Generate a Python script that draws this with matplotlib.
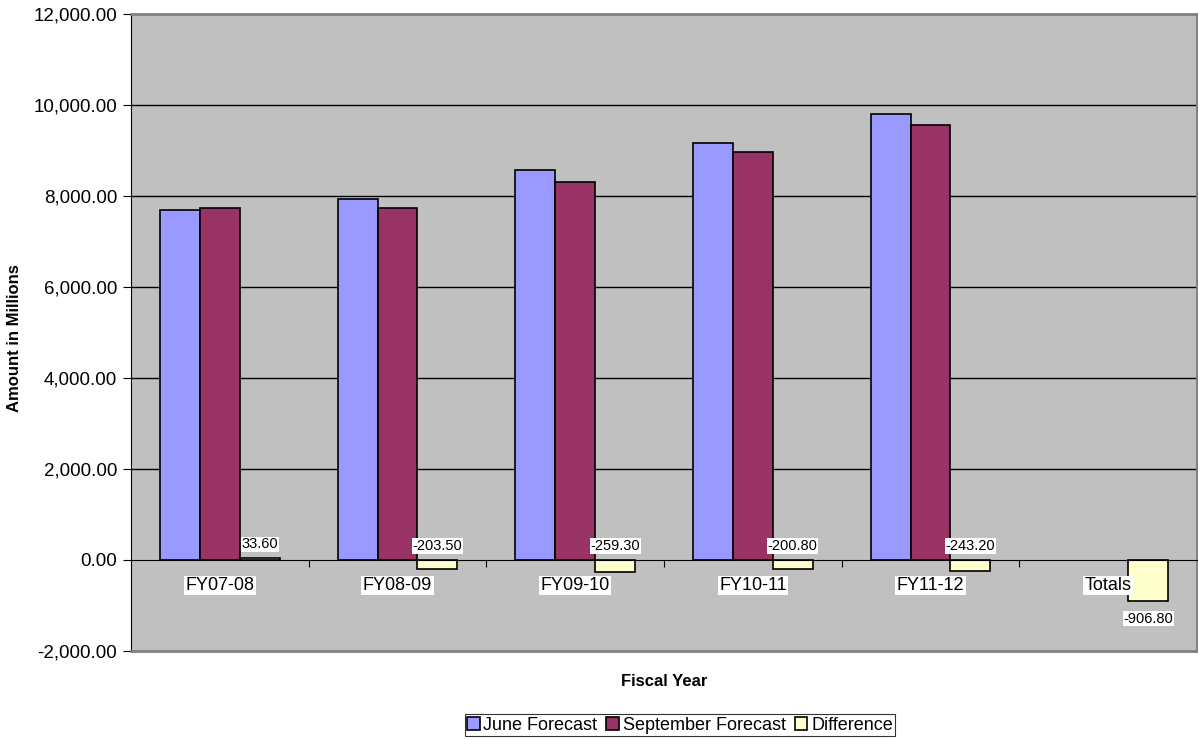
import numpy as np
import matplotlib.pyplot as plt
from matplotlib.ticker import FuncFormatter

plt.rcParams['font.family'] = ['Liberation Sans', 'DejaVu Sans']

categories = ['FY07-08', 'FY08-09', 'FY09-10', 'FY10-11', 'FY11-12', 'Totals']
june = [7700.0, 7940.0, 8570.0, 9170.0, 9810.0, np.nan]
september = [7733.6, 7736.5, 8310.7, 8969.2, 9566.8, np.nan]
difference = [33.6, -203.5, -259.3, -200.8, -243.2, -906.8]
diff_labels = ['33.60', '-203.50', '-259.30', '-200.80', '-243.20', '-906.80']

fig = plt.figure(figsize=(11.98, 7.40), dpi=100)
ax = fig.add_axes([131 / 1198, 1 - 651 / 740, 1066 / 1198, 637 / 740])
ax.set_facecolor('#C0C0C0')

x = np.arange(len(categories))
w = 0.225
ax.bar(x - w, june, w, color='#9999FF', edgecolor='black', lw=1.2, label='June Forecast', zorder=3)
ax.bar(x, september, w, color='#993366', edgecolor='black', lw=1.2, label='September Forecast', zorder=3)
ax.bar(x + w, difference, w, color='#FFFFCC', edgecolor='black', lw=1.2, label='Difference', zorder=3)

ax.set_xlim(-0.5, len(categories) - 0.5)
ax.set_ylim(-2000, 12000)
ax.set_yticks(np.arange(-2000, 12001, 2000))
ax.yaxis.set_major_formatter(FuncFormatter(lambda v, p: f'{v:,.2f}'))
ax.tick_params(axis='y', labelsize=13.5, length=6, pad=4, direction='out', colors='black')
for yv in range(0, 12000, 2000):
    if yv != 0:
        ax.axhline(yv, color='black', lw=1, zorder=1)

# x axis sits at zero
ax.spines['bottom'].set_position(('data', 0))
ax.spines['bottom'].set_color('black')
ax.spines['bottom'].set_zorder(4)
ax.set_xticks(np.arange(0.5, len(categories) - 0.5, 1))
ax.set_xticklabels([])
ax.tick_params(axis='x', length=5, direction='out', colors='black')
ax.spines['left'].set_color('black')
for s in ['top', 'right']:
    ax.spines[s].set_color('#808080')
    ax.spines[s].set_linewidth(2)
ax.plot([0, 1], [0, 0], transform=ax.transAxes, color='#808080', lw=2, clip_on=False, zorder=5)

for i, c in enumerate(categories):
    ax.text(i, -560, c, ha='center', va='center', fontsize=13,
            bbox=dict(facecolor='white', edgecolor='none', pad=1), zorder=6)

for i, (d, lab) in enumerate(zip(difference, diff_labels)):
    if i < len(categories) - 1:
        yy = max(d, 0) + 310
    else:
        yy = d - 380
    ax.text(i + w, yy, lab, ha='center', va='center', fontsize=10.5,
            bbox=dict(facecolor='white', edgecolor='none', pad=0.5), zorder=6)

fig.text(15 / 1198, 1 - 338 / 740, 'Amount in Millions', rotation=90, ha='center', va='center',
         fontsize=12, fontweight='bold')
fig.text(664 / 1198, 1 - 681 / 740, 'Fiscal Year', ha='center', va='center', fontsize=12, fontweight='bold')

leg = fig.legend(loc='center', bbox_to_anchor=(680 / 1198, 1 - 725 / 740), ncol=3, frameon=True,
                 fancybox=False, edgecolor='black', fontsize=13, handlelength=0.7,
                 handleheight=0.7, handletextpad=0.2, columnspacing=0.5, borderpad=0.15,
                 borderaxespad=0)
leg.get_frame().set_linewidth(0.8)

fig.savefig('out.png', dpi=100)
